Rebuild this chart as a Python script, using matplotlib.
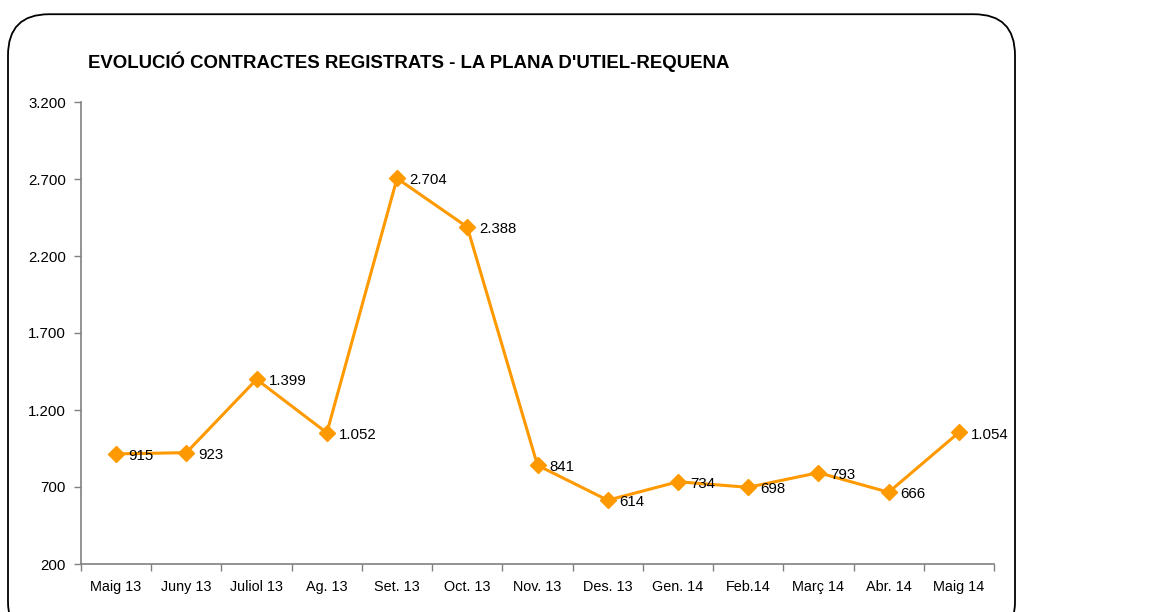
import numpy as np
import matplotlib.pyplot as plt
from matplotlib.patches import FancyBboxPatch
from matplotlib.ticker import FuncFormatter, FixedLocator

plt.rcParams['font.family'] = ['Liberation Sans', 'DejaVu Sans']

months = ["Maig 13", "Juny 13", "Juliol 13", "Ag. 13", "Set. 13", "Oct. 13", "Nov. 13",
          "Des. 13", "Gen. 14", "Feb.14", "Març 14", "Abr. 14", "Maig 14"]
contracts = [915, 923, 1399, 1052, 2704, 2388, 841, 614, 734, 698, 793, 666, 1054]

W, H = 1172, 612
fig = plt.figure(figsize=(W / 100, H / 100), dpi=100)

# rounded frame, bottom runs off the picture
frame = FancyBboxPatch((8 / W, -0.05), (1015 - 8) / W, (H - 13) / H + 0.05 - 0.002,
                       boxstyle="round,pad=0,rounding_size=0.035",
                       transform=fig.transFigure, facecolor="none",
                       edgecolor="black", linewidth=1.3, mutation_aspect=W / H,
                       zorder=-1)
fig.patches.append(frame)

ax = fig.add_axes([81 / W, 1 - 564 / H, (994 - 81) / W, (564 - 102) / H])
ax.set_facecolor("none")

x = np.arange(len(months))
ax.plot(x, contracts, color="#FF9900", linewidth=2.2, marker="D", markersize=8.5,
        markeredgecolor="#FF9900", zorder=3)

def fmt(v, pos=None):
    return f"{int(v):,}".replace(",", ".")

for xi, v in zip(x, contracts):
    ax.annotate(fmt(v), (xi, v), xytext=(8.5, -1.5), textcoords="offset points",
                ha="left", va="center", fontsize=10.8)

ax.set_xlim(-0.5, len(months) - 0.5)
ax.set_ylim(200, 3200)
ax.set_yticks(np.arange(200, 3201, 500))
ax.yaxis.set_major_formatter(FuncFormatter(fmt))

ax.xaxis.set_major_locator(FixedLocator(np.arange(-0.5, len(months), 1)))
ax.xaxis.set_major_formatter(FuncFormatter(lambda v, p: ""))
ax.xaxis.set_minor_locator(FixedLocator(x))
ax.set_xticklabels(months, minor=True)
ax.tick_params(axis="x", which="minor", length=0, pad=11.5, labelsize=10.4)
ax.tick_params(axis="x", which="major", length=5, color="#808080", width=1)
ax.tick_params(axis="y", length=5, color="#808080", width=1, labelsize=10.8, pad=6)

for side in ("top", "right"):
    ax.spines[side].set_visible(False)
for side in ("left", "bottom"):
    ax.spines[side].set_color("#808080")
    ax.spines[side].set_linewidth(1.2)

fig.text(88 / W, 1 - 62 / H, "EVOLUCIÓ CONTRACTES REGISTRATS - LA PLANA D'UTIEL-REQUENA",
         fontsize=13.4, fontweight="bold", ha="left", va="center")

fig.savefig("out.png", dpi=100)
